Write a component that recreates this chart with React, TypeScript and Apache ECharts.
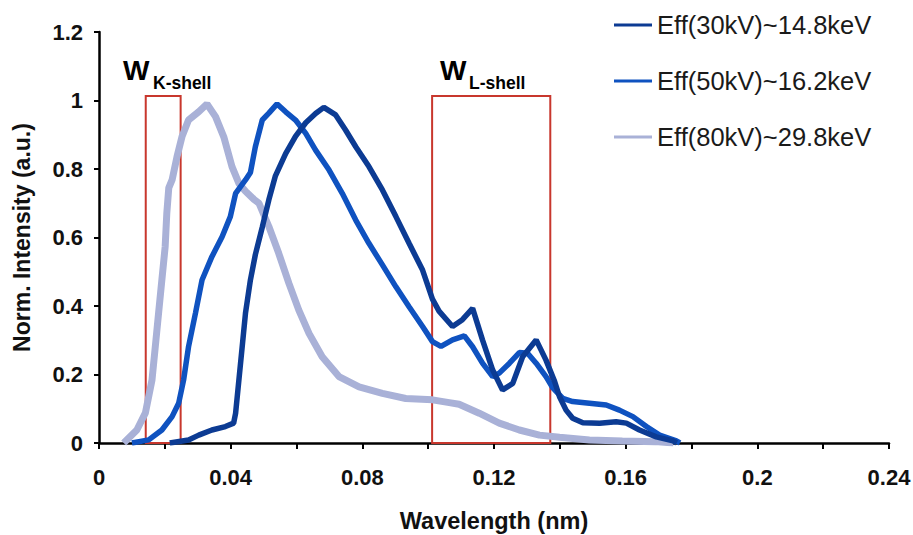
import React, { useEffect, useRef } from "react";
import * as echarts from "echarts";

// ---- Data ----
const seriesNames = ["Eff(30kV)~14.8keV", "Eff(50kV)~16.2keV", "Eff(80kV)~29.8keV"];

const wl30 = [0.0215, 0.0272, 0.0303, 0.0343, 0.0384, 0.0409, 0.0415, 0.0425, 0.0435, 0.0445, 0.046, 0.0475, 0.0496, 0.0516, 0.0536, 0.0567, 0.0597, 0.0628, 0.0658, 0.0683, 0.0719, 0.0749, 0.078, 0.082, 0.0861, 0.0902, 0.0942, 0.0983, 0.1013, 0.1033, 0.1074, 0.1104, 0.1135, 0.1165, 0.1196, 0.1226, 0.1257, 0.1287, 0.1328, 0.1358, 0.1384, 0.1399, 0.1419, 0.1439, 0.147, 0.1521, 0.1571, 0.1602, 0.1642, 0.1693, 0.1744, 0.1755];
const int30 = [0, 0.009, 0.023, 0.038, 0.048, 0.058, 0.087, 0.184, 0.281, 0.379, 0.476, 0.55, 0.63, 0.71, 0.78, 0.845, 0.895, 0.935, 0.962, 0.98, 0.958, 0.914, 0.865, 0.807, 0.739, 0.661, 0.583, 0.505, 0.42, 0.385, 0.34, 0.36, 0.393, 0.301, 0.213, 0.155, 0.174, 0.252, 0.301, 0.242, 0.18, 0.135, 0.096, 0.072, 0.059, 0.058, 0.062, 0.058, 0.038, 0.018, 0.006, 0];

const wl50 = [0.01, 0.0151, 0.0191, 0.0222, 0.0242, 0.0257, 0.0272, 0.0293, 0.0313, 0.0343, 0.0374, 0.0399, 0.0415, 0.0445, 0.046, 0.0475, 0.0496, 0.0516, 0.0541, 0.0567, 0.0597, 0.0628, 0.0658, 0.0699, 0.0739, 0.078, 0.082, 0.0861, 0.0902, 0.0942, 0.0983, 0.1013, 0.1039, 0.1074, 0.111, 0.1135, 0.1165, 0.1196, 0.1216, 0.1247, 0.1277, 0.1302, 0.1328, 0.1358, 0.1378, 0.1409, 0.1439, 0.149, 0.1541, 0.1581, 0.1622, 0.1663, 0.1703, 0.1754, 0.1765];
const int50 = [0, 0.009, 0.038, 0.077, 0.116, 0.184, 0.281, 0.379, 0.476, 0.544, 0.602, 0.661, 0.729, 0.768, 0.79, 0.865, 0.943, 0.963, 0.99, 0.967, 0.943, 0.904, 0.855, 0.797, 0.729, 0.651, 0.583, 0.52, 0.456, 0.398, 0.34, 0.296, 0.282, 0.301, 0.313, 0.281, 0.233, 0.194, 0.204, 0.233, 0.264, 0.262, 0.233, 0.194, 0.162, 0.13, 0.121, 0.116, 0.111, 0.096, 0.077, 0.048, 0.023, 0.006, 0];

const wl80 = [0.0075, 0.0115, 0.0141, 0.0161, 0.0171, 0.0181, 0.0191, 0.0201, 0.0206, 0.0212, 0.0222, 0.0237, 0.0252, 0.0272, 0.0303, 0.0328, 0.0354, 0.0379, 0.0404, 0.0425, 0.0445, 0.047, 0.0486, 0.0516, 0.0546, 0.0577, 0.0607, 0.0638, 0.0678, 0.0729, 0.079, 0.0861, 0.0932, 0.1013, 0.1064, 0.1094, 0.1155, 0.1216, 0.1277, 0.1338, 0.1399, 0.149, 0.159, 0.169, 0.1745];
const int80 = [0, 0.038, 0.088, 0.184, 0.281, 0.379, 0.476, 0.573, 0.671, 0.745, 0.768, 0.836, 0.894, 0.943, 0.967, 0.99, 0.953, 0.894, 0.807, 0.758, 0.735, 0.712, 0.7, 0.632, 0.554, 0.466, 0.388, 0.32, 0.252, 0.194, 0.164, 0.145, 0.13, 0.126, 0.118, 0.113, 0.087, 0.058, 0.038, 0.023, 0.017, 0.009, 0.006, 0.004, 0];

// shell windows [from, to] in nm, and their height
const kShell = [0.0142, 0.0248];
const lShell = [0.1012, 0.1371];
const windowTop = 1.013;

const xTicks = { min: 0, max: 0.24, interval: 0.04 };
const yTicks = { min: 0, max: 1.2, interval: 0.2 };

const colors = ["#0c3b93", "#0f52c0", "#a9b1d7"];

const pairs = (xs: number[], ys: number[]) => xs.map((x, i) => [x, ys[i]]);

export default function App() {
  const ref = useRef<HTMLDivElement>(null);
  useEffect(() => {
    if (!ref.current) return;
    const chart = echarts.init(ref.current, undefined, { renderer: "svg" });
    const font = "'Liberation Sans', Arial, sans-serif";
    const axisLine = { show: true, lineStyle: { color: "#000", width: 2.5 } };
    chart.setOption({
      animation: false,
      backgroundColor: "#fff",
      grid: { left: 99, right: 24, top: 32, bottom: 92, outerBoundsMode: "none", containLabel: false },
      legend: {
        data: seriesNames,
        orient: "vertical",
        left: 614,
        top: 12,
        padding: 0,
        itemGap: 30,
        itemWidth: 38,
        itemHeight: 3,
        icon: "rect",
        textStyle: { fontFamily: font, fontSize: 25.5, color: "#1a1a1a", lineHeight: 25 },
      },
      xAxis: {
        type: "value",
        min: xTicks.min,
        max: xTicks.max,
        interval: xTicks.interval,
        name: "Wavelength (nm)",
        nameLocation: "middle",
        nameGap: 66,
        nameTextStyle: { fontFamily: font, fontSize: 23.5, fontWeight: "bold", color: "#111" },
        axisLine,
        axisTick: { show: true, inside: false, length: 6, lineStyle: { color: "#000", width: 2 } },
        minorTick: { show: true, splitNumber: 2, length: 6, lineStyle: { color: "#000", width: 2 } },
        axisLabel: { fontFamily: font, fontSize: 22, fontWeight: "bold", color: "#111", margin: 23 },
        splitLine: { show: false },
      },
      yAxis: {
        type: "value",
        min: yTicks.min,
        max: yTicks.max,
        interval: yTicks.interval,
        name: "Norm. Intensity (a.u.)",
        nameLocation: "middle",
        nameGap: 66,
        nameTextStyle: { fontFamily: font, fontSize: 23, fontWeight: "bold", color: "#111" },
        axisLine,
        axisTick: { show: true, inside: false, length: 5, lineStyle: { color: "#000", width: 2 } },
        axisLabel: { fontFamily: font, fontSize: 22, fontWeight: "bold", color: "#111", margin: 16 },
        splitLine: { show: false },
      },
      series: [
        {
          name: seriesNames[2],
          type: "line",
          data: pairs(wl80, int80),
          showSymbol: false,
          symbol: "none",
          color: colors[2],
          lineStyle: { width: 7, color: colors[2] },
          z: 2,
        },
        {
          name: seriesNames[1],
          type: "line",
          data: pairs(wl50, int50),
          showSymbol: false,
          symbol: "none",
          color: colors[1],
          lineStyle: { width: 5.5, color: colors[1] },
          z: 3,
        },
        {
          name: seriesNames[0],
          type: "line",
          data: pairs(wl30, int30),
          showSymbol: false,
          symbol: "none",
          color: colors[0],
          lineStyle: { width: 5.5, color: colors[0] },
          z: 4,
          markArea: {
            silent: true,
            itemStyle: { color: "rgba(0,0,0,0)", borderColor: "#c8372d", borderWidth: 2 },
            label: { show: false },
            data: [
              [{ xAxis: kShell[0], yAxis: 0 }, { xAxis: kShell[1], yAxis: windowTop }],
              [{ xAxis: lShell[0], yAxis: 0 }, { xAxis: lShell[1], yAxis: windowTop }],
            ],
          },
        },
      ],
      graphic: [
        { type: "text", left: 123, top: 56, style: { text: "W", fontFamily: font, fontSize: 28, fontWeight: "bold", fill: "#000" } },
        { type: "text", left: 153, top: 74, style: { text: "K-shell", fontFamily: font, fontSize: 17.5, fontWeight: "bold", fill: "#000" } },
        { type: "text", left: 440, top: 56, style: { text: "W", fontFamily: font, fontSize: 28, fontWeight: "bold", fill: "#000" } },
        { type: "text", left: 469, top: 74, style: { text: "L-shell", fontFamily: font, fontSize: 17.5, fontWeight: "bold", fill: "#000" } },
      ],
    });
    return () => chart.dispose();
  }, []);
  return (
    <div
      ref={ref}
      style={{ position: "fixed", left: 0, top: 0, width: 913, height: 535, background: "#fff" }}
    />
  );
}
